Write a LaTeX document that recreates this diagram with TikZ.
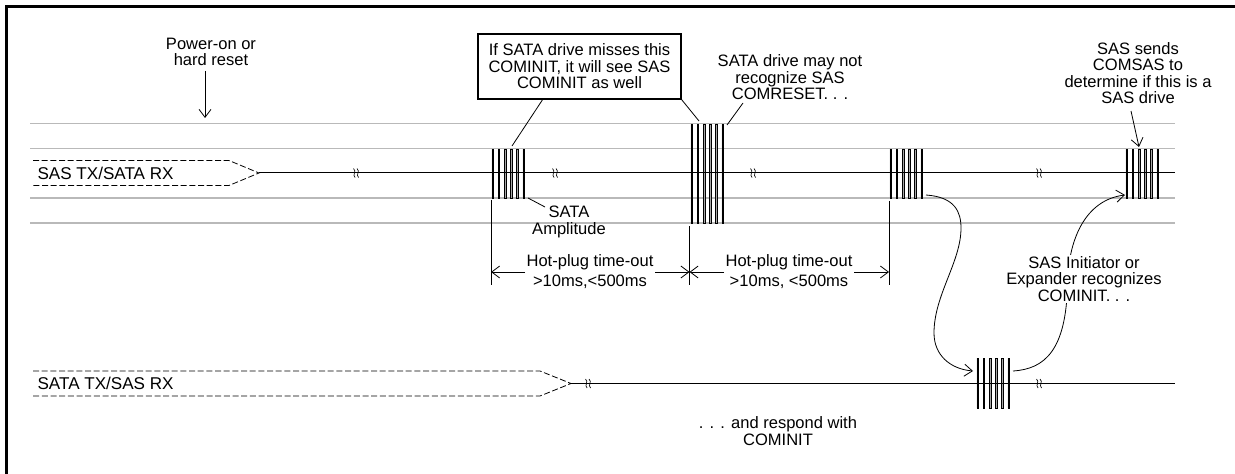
\documentclass[tikz,border=0pt]{standalone}
\usepackage{fontspec}
\setmainfont{Liberation Sans}
\usetikzlibrary{arrows.meta}
\definecolor{railgray}{RGB}{185,185,185}
\tikzset{
  rail/.style={draw=railgray,line width=1.1pt},
  signal/.style={draw=black,line width=0.75pt},
  pinbox/.style={draw=black,dashed,dash pattern=on 4.5pt off 2pt,line width=0.6pt},
  callout/.style={draw=black,line width=0.6pt},
  arrowline/.style={draw=black,line width=0.6pt,-{Straight Barb[length=6pt,width=9pt]}},
  dimline/.style={draw=black,line width=0.7pt},
  caption/.style={align=center,font=\fontsize{12.4}{12.4}\selectfont,inner sep=1pt},
  pinlabel/.style={anchor=west,font=\fontsize{12.8}{12.8}\selectfont,inner sep=1pt},
}
% one burst of COM pulses: name, left edge, top, bottom
\newcommand{\comburst}[4]{%
  \coordinate (#1) at (#2,{(#3+#4)/2});
  \foreach \i in {0,...,5} {
    \draw[line width=0.45pt,fill=gray!70] (#2+0.8+\i*6.2,#3) -- (#2+2.4+\i*6.2,#3)
      .. controls (#2+3.2+\i*6.2,{(#3+#4)/2}) .. (#2+2.4+\i*6.2,#4)
      -- (#2+0.8+\i*6.2,#4) .. controls (#2+\i*6.2,{(#3+#4)/2}) .. cycle;
  }
}
% break mark on a signal line
\newcommand{\cutmark}[2]{%
  \draw[line width=0.5pt] (#1-2.5,#2-4.5) .. controls (#1+1,#2-1.5) and (#1-4,#2+1.5) .. (#1-1,#2+4.5);
  \draw[line width=0.5pt] (#1+1,#2-4.5) .. controls (#1+4.5,#2-1.5) and (#1-0.5,#2+1.5) .. (#1+2.5,#2+4.5);
}
\begin{document}
\begin{tikzpicture}[x=0.75pt,y=-0.75pt]
\useasboundingbox (0,0) rectangle (1235,474);
% frame, cut off at right and bottom
\draw[line width=1.9pt] (6.5,474) -- (6.5,6.5) -- (1235,6.5);

% amplitude rails
\foreach \yy in {123.5,148.5,198,223}
  \draw[rail] (30,\yy) -- (1175,\yy);

% SAS side
\draw[pinbox] (33,160.5) -- (229,160.5) -- (259,173) -- (229,185.5) -- (33,185.5);
\node[pinlabel] (sastx) at (36,173) {SAS TX/SATA RX};
\comburst{one}{491}{149}{198}
\comburst{two}{690}{124}{223}
\comburst{three}{889}{149}{198}
\comburst{four}{1125}{149}{198}
\draw[signal] (259,173) -- (1175,173);
\foreach \xx in {356,555,753,1039} {\cutmark{\xx}{173}}

% SATA side
\draw[pinbox] (33,371) -- (540,371) -- (571,383.5) -- (540,396) -- (33,396);
\node[pinlabel] (satatx) at (36,383.5) {SATA TX/SAS RX};
\comburst{five}{976}{358}{408}
\draw[signal] (571,383.5) -- (1175,383.5);
\foreach \xx in {588,1039} {\cutmark{\xx}{383.5}}

% time-out dimensions
\coordinate (dimA) at (491,272);
\coordinate (dimB) at (689.5,272);
\coordinate (dimC) at (889,272);
\draw[dimline] (491,200) -- (491,285);
\draw[dimline] (689.5,226) -- (689.5,285);
\draw[dimline] (889,201) -- (889,285);
\node[caption] (hotA) at (590,271.5) {Hot-plug time-out\\[2pt]>10ms,<500ms};
\node[caption] (hotB) at (789,271.5) {Hot-plug time-out\\[2pt]>10ms, <500ms};
\draw[arrowline] (hotA.west |- dimA) -- (dimA);
\draw[arrowline] (hotA.east |- dimB) -- (dimB);
\draw[arrowline] (hotB.west |- dimB) -- (dimB);
\draw[arrowline] (hotB.east |- dimC) -- (dimC);

% notes
\node[caption] (power) at (211,52) {Power-on or\\hard reset};
\coordinate (powerend) at (205,118);
\draw[arrowline] (205,71) -- (powerend);

\node[caption,draw=black,line width=1.2pt,minimum width=152pt,minimum height=48.5pt] (misses) at (579.5,66.5)
  {If SATA drive misses this\\COMINIT, it will see SAS\\COMINIT as well};
\coordinate (missA) at (512,146);
\coordinate (missB) at (699,121);
\draw[callout] (543,99) -- (missA);
\draw[callout] (misses.south east) -- (missB);

\node[caption] (norec) at (790,77.5) {SATA drive may not\\recognize SAS\\COMRESET. . .};
\draw[callout] (743,103) -- (727,125);

\node[caption] (ampl) at (569,222) {SATA\\Amplitude};
\draw[callout] (528,198) -- (545,207);

\node[caption] (comsas) at (1138,73) {SAS sends\\COMSAS to\\determine if this is a\\SAS drive};
\draw[arrowline] (1131,111) -- (1139,147);

% handshake curves
\draw[arrowline] (926,195) .. controls (955,197) and (961,212) .. (961,228)
  .. controls (961,262) and (934,295) .. (934,333)
  .. controls (934,355) and (950,369) .. (973,371);
\draw[arrowline] (1013,371) .. controls (1045,369) and (1066,350) .. (1067.5,285)
  .. controls (1068,240) and (1085,200) .. (1125,195);
\node[caption,fill=white] (recog) at (1084,279) {SAS Initiator or\\Expander recognizes\\COMINIT. . .};
\node[caption] (respond) at (778,431) {. . . and respond with\\COMINIT};
\end{tikzpicture}
\end{document}
